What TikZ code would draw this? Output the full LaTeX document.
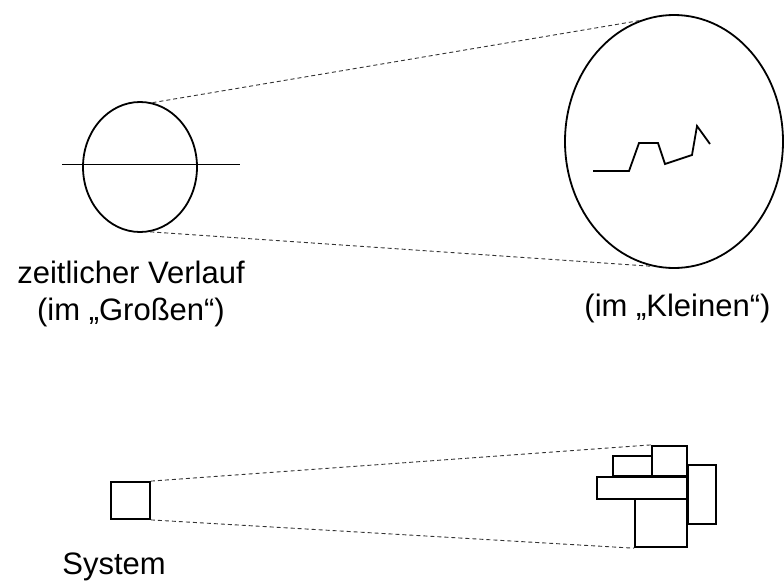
\documentclass[tikz,border=0pt]{standalone}
\usepackage{fontspec}
\setmainfont{Liberation Sans}
\usetikzlibrary{shapes.geometric}

\begin{document}
\begin{tikzpicture}[x=1pt, y=-1pt, line width=1.8pt,
    font=\fontsize{31}{37}\selectfont,
    lupe/.style={draw, ellipse, inner sep=0pt},
    kasten/.style={draw, rectangle, inner sep=0pt},
    zoomlinie/.style={line width=0.9pt, black!80, dash pattern=on 4pt off 3pt}]
  \useasboundingbox (0,0) rectangle (784,581);
  % --- top: the curve, large and small ---
  \begin{scope}
    \node[lupe, minimum width=114pt, minimum height=130pt] (gross) at (140,167) {};
    \draw (62,164.5) -- (240,164.5);
    \node[lupe, minimum width=218pt, minimum height=253pt] (klein) at (674,141.5) {};
    \draw[line join=miter] (593,171) -- (629,171) -- (639,143) -- (658,143)
      -- (665,164) -- (692,155) -- (697,126) -- (710,144);
    \draw[zoomlinie] (gross.79) -- (klein.106);
    \draw[zoomlinie] (gross.279) -- (klein.260);
    \node[anchor=base, align=center] (grosstext) at (131,320)
      {zeitlicher Verlauf\\(im „Großen“)};
    \node[anchor=base] (kleintext) at (677.5,316) {(im „Kleinen“)};
  \end{scope}
  % --- bottom: the system and its parts ---
  \begin{scope}
    \node[kasten, minimum width=39pt, minimum height=37pt] (sys) at (130.5,500.5) {};
    \node[kasten, minimum width=34.4pt, minimum height=30.3pt] (oben) at (669.5,460.9) {};
    \node[kasten, minimum width=39.6pt, minimum height=20.3pt] (links) at (632.5,465.9) {};
    \node[kasten, minimum width=90.6pt, minimum height=22pt] (quer) at (642,488.3) {};
    \node[kasten, minimum width=27.7pt, minimum height=59pt] (rechts) at (701.9,494.8) {};
    \node[kasten, minimum width=51.7pt, minimum height=48pt] (unten) at (660.9,523.3) {};
    \draw[zoomlinie] (sys.north east) -- (oben.north west);
    \draw[zoomlinie] (sys.south east) -- (unten.south west);
    \node[anchor=base] (systext) at (114,574) {System};
  \end{scope}
\end{tikzpicture}
\end{document}
